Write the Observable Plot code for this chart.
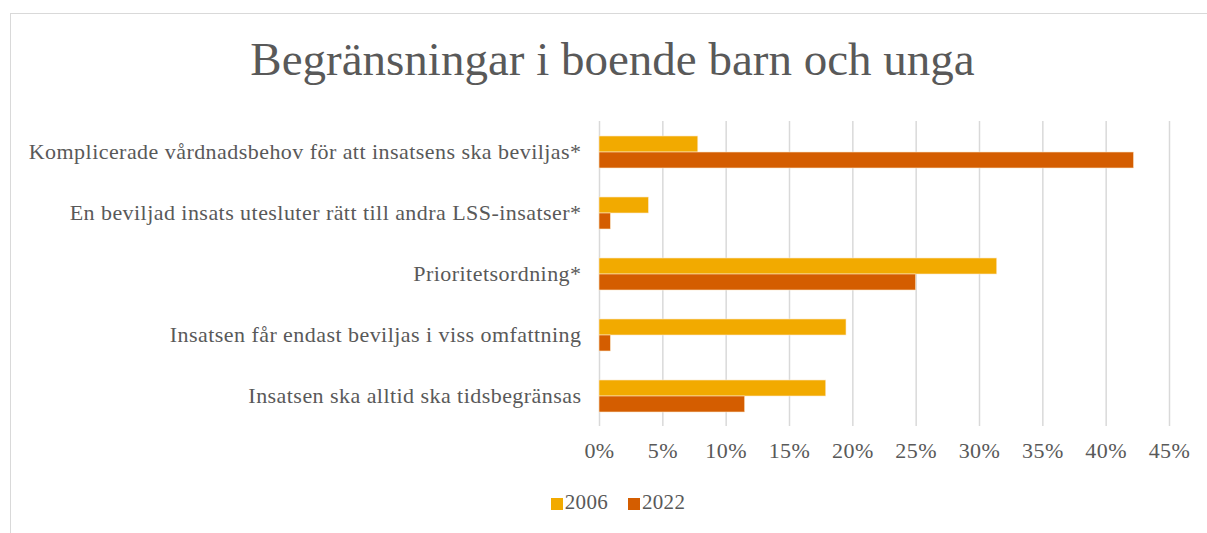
<!DOCTYPE html>
<html>
<head>
<meta charset="utf-8">
<script src="https://cdn.jsdelivr.net/npm/d3@7"></script>
<script src="https://cdn.jsdelivr.net/npm/@observablehq/plot@0.6"></script>
<style>
  html, body { margin: 0; padding: 0; background: #fff; }
  #wrap { position: relative; width: 1207px; height: 533px; overflow: hidden; background: #fff; font-family: "Liberation Serif", serif; color: #595959; }
  #frame { position: absolute; left: 10px; top: 13px; width: 1210px; height: 540px; border: 1.5px solid #d9d9d9; box-sizing: border-box; }
  #title { position: absolute; left: 0; width: 1225px; top: 32px; text-align: center; font-size: 47px; color: #595959; white-space: nowrap; }
  #chart { position: absolute; left: 0; top: 0; }
  #legend { position: absolute; top: 490px; left: 0; width: 1236px; display: flex; justify-content: center; gap: 20px; font-size: 21px; letter-spacing: 0.3px; color: #595959; }
  .sw { display: inline-block; width: 12px; height: 12px; margin-right: 2px; vertical-align: -1px; }
</style>
</head>
<body>
<div id="wrap">
  <div id="frame"></div>
  <div id="title">Begränsningar i boende barn och unga</div>
  <div id="chart"></div>
  <div id="legend"></div>
</div>
<script>
const categories = [
  "Komplicerade vårdnadsbehov för att insatsens ska beviljas*",
  "En beviljad insats utesluter rätt till andra LSS-insatser*",
  "Prioritetsordning*",
  "Insatsen får endast beviljas i viss omfattning",
  "Insatsen ska alltid ska tidsbegränsas"
];
const years = ["2006", "2022"];
const values2006 = [7.8, 3.9, 31.4, 19.5, 17.9];
const values2022 = [42.2, 0.9, 25.0, 0.9, 11.5];
const xTicks = [0, 5, 10, 15, 20, 25, 30, 35, 40, 45];
const colors = ["#F2AA00", "#D45D00"];

const data = [];
categories.forEach((c, i) => {
  data.push({category: c, year: years[0], value: values2006[i]});
  data.push({category: c, year: years[1], value: values2022[i]});
});

const chart = Plot.plot({
  width: 1207,
  height: 480,
  marginLeft: 599,
  marginRight: 38,
  marginTop: 120,
  marginBottom: 54,
  style: {fontFamily: "Liberation Serif, serif", fontSize: "22px", letterSpacing: "0.45px", color: "#595959", background: "transparent", overflow: "visible"},
  x: {domain: [0, 45], ticks: xTicks, tickFormat: d => d + "%", tickSize: 0, tickPadding: 16, label: null},
  y: {domain: years, paddingInner: 0, paddingOuter: 0.906, axis: null},
  fy: {domain: categories, padding: 0, label: null, tickSize: 0, tickPadding: 18},
  color: {domain: years, range: colors},
  marks: [
    Plot.ruleX(xTicks, {stroke: "#d9d9d9", strokeWidth: 1.5}),
    Plot.barX(data, {x: "value", y: "year", fy: "category", fill: "year", stroke: "#fbe7c8", strokeWidth: 0.6})
  ]
});
document.getElementById("chart").appendChild(chart);

const legend = document.getElementById("legend");
years.forEach((y, i) => {
  const s = document.createElement("span");
  s.innerHTML = `<span class="sw" style="background:${colors[i]}"></span>${y}`;
  legend.appendChild(s);
});
</script>
</body>
</html>
